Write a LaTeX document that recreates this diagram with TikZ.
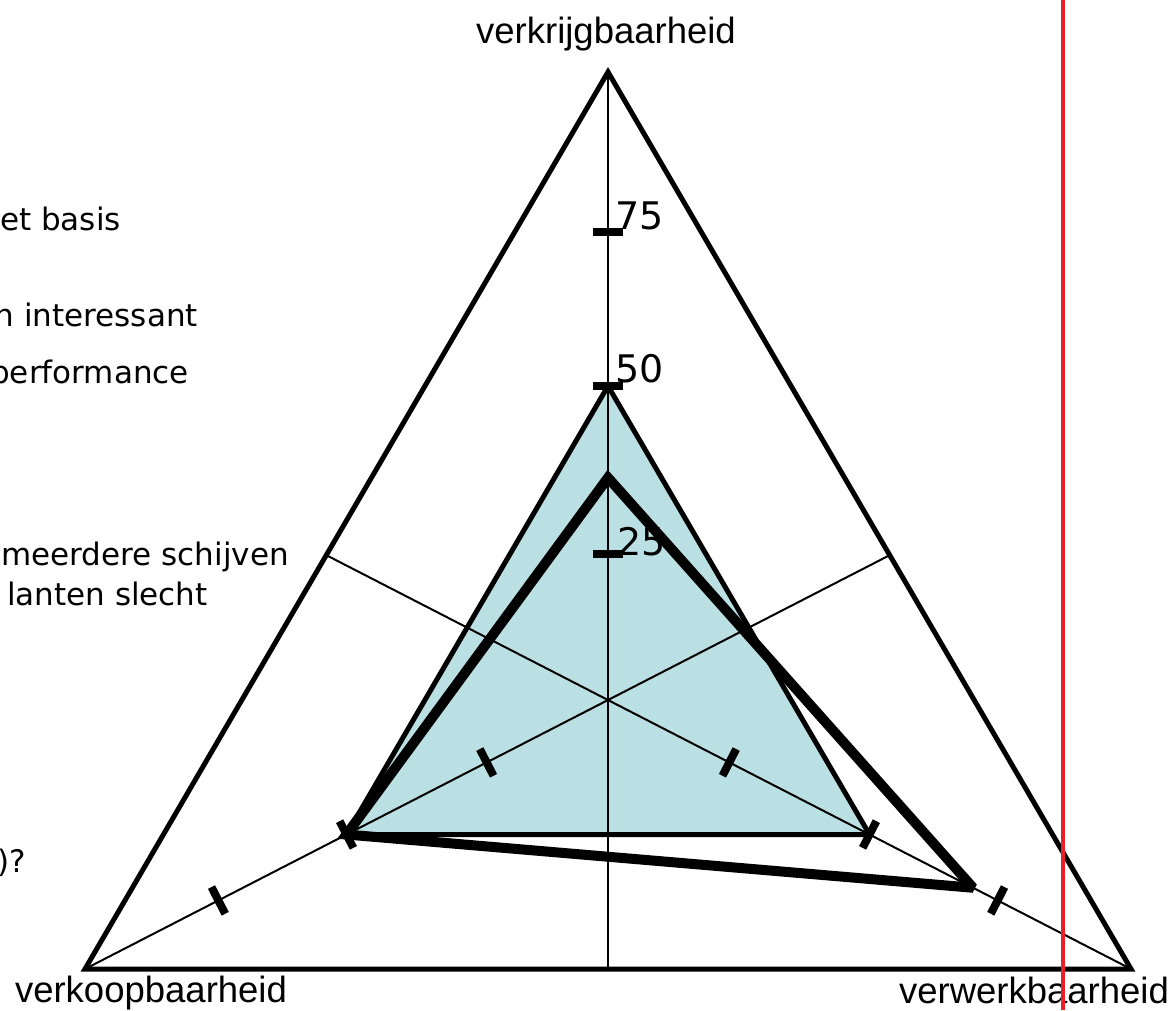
\documentclass[tikz,border=0pt]{standalone}
\usepackage{fontspec}
\setmainfont{Liberation Sans}
\newfontfamily\dejavu{DejaVu Sans}
\usetikzlibrary{calc}
\definecolor{fillblue}{RGB}{187,224,227}
\definecolor{redline}{RGB}{232,32,40}
\begin{document}
\begin{tikzpicture}[x=1pt,y=-1pt,
  outer/.style={line width=5pt, line join=miter},
  axisline/.style={line width=2pt},
  tickmark/.style={line width=8pt},
  valtri/.style={fill=fillblue, draw=black, line width=5pt, line join=miter},
  profile/.style={draw=black, line width=10pt, line join=miter, miter limit=2.5},
  axlabel/.style={font=\fontsize{36.5}{40}\selectfont, anchor=base, inner sep=0pt},
  numlabel/.style={font=\dejavu\fontsize{38}{42}\selectfont, anchor=base west, inner sep=0pt},
  bgtext/.style={font=\dejavu\fontsize{31}{35}\selectfont, anchor=base east, inner sep=0pt},
  redrule/.style={draw=redline, line width=3.5pt}
]
\clip (0,0) rectangle (1176,1010);
\fill[white] (0,0) rectangle (1176,1010);

% main geometry
\coordinate (A) at (608,72);
\coordinate (B) at (85,969);
\coordinate (C) at (1131,969);
\coordinate (O) at (608,700);
\coordinate (Abot) at (608,969);
\coordinate (Lside) at (326,555);
\coordinate (Rside) at (890,555);

% value triangle (50% on every axis)
\coordinate (a50) at ($(O)!0.5!(A)$);
\coordinate (b50) at ($(O)!0.5!(B)$);
\coordinate (c50) at ($(O)!0.5!(C)$);
\path[valtri] (a50) -- (b50) -- (c50) -- cycle;

% axes
\draw[axisline] (A) -- (Abot);
\draw[axisline] (B) -- (Rside);
\draw[axisline] (C) -- (Lside);

% outer triangle
\draw[outer] (A) -- (B) -- (C) -- cycle;

% tick marks
\foreach \v in {A,B,C}{
  \foreach \f in {0.232,0.5,0.745}{
    \coordinate (tk) at ($(O)!\f!(\v)$);
    \draw[tickmark] ($(tk)!15pt!90:(\v)$) -- ($(tk)!15pt!-90:(\v)$);
  }
}

% profile
\coordinate (pa) at ($(O)!0.354!(A)$);
\coordinate (pb) at ($(O)!0.5!(B)$);
\coordinate (pc) at ($(O)!0.698!(C)$);
\draw[profile] (pa) -- (pb) -- (pc) -- cycle;

% scale numbers
\node[numlabel] (n75) at (615,229) {75};
\node[numlabel] (n50) at (615,382) {50};
\node[numlabel] (n25) at (617,555) {25};

% axis labels
\node[axlabel] (lblA) at (606,43) {verkrijgbaarheid};
\node[axlabel] (lblB) at (151,1002) {verkoopbaarheid};
\node[axlabel] (lblC) at (1034,1003) {verwerkbaarheid};

% text of the slide behind, cut off at the left edge
\node[bgtext] (bg1) at (121,230) {et basis};
\node[bgtext] (bg2) at (198,326) {n interessant};
\node[bgtext] (bg3) at (189,383) {performance};
\node[bgtext] (bg4) at (289,565) {meerdere schijven};
\node[bgtext] (bg5) at (208,605) {lanten slecht};
\node[bgtext] (bg6) at (26,872) {)?};

% red vertical line
\coordinate (rtop) at (1063,0);
\coordinate (rbot) at (1063,1010);
\draw[redrule] (rtop) -- (rbot);
\end{tikzpicture}
\end{document}
